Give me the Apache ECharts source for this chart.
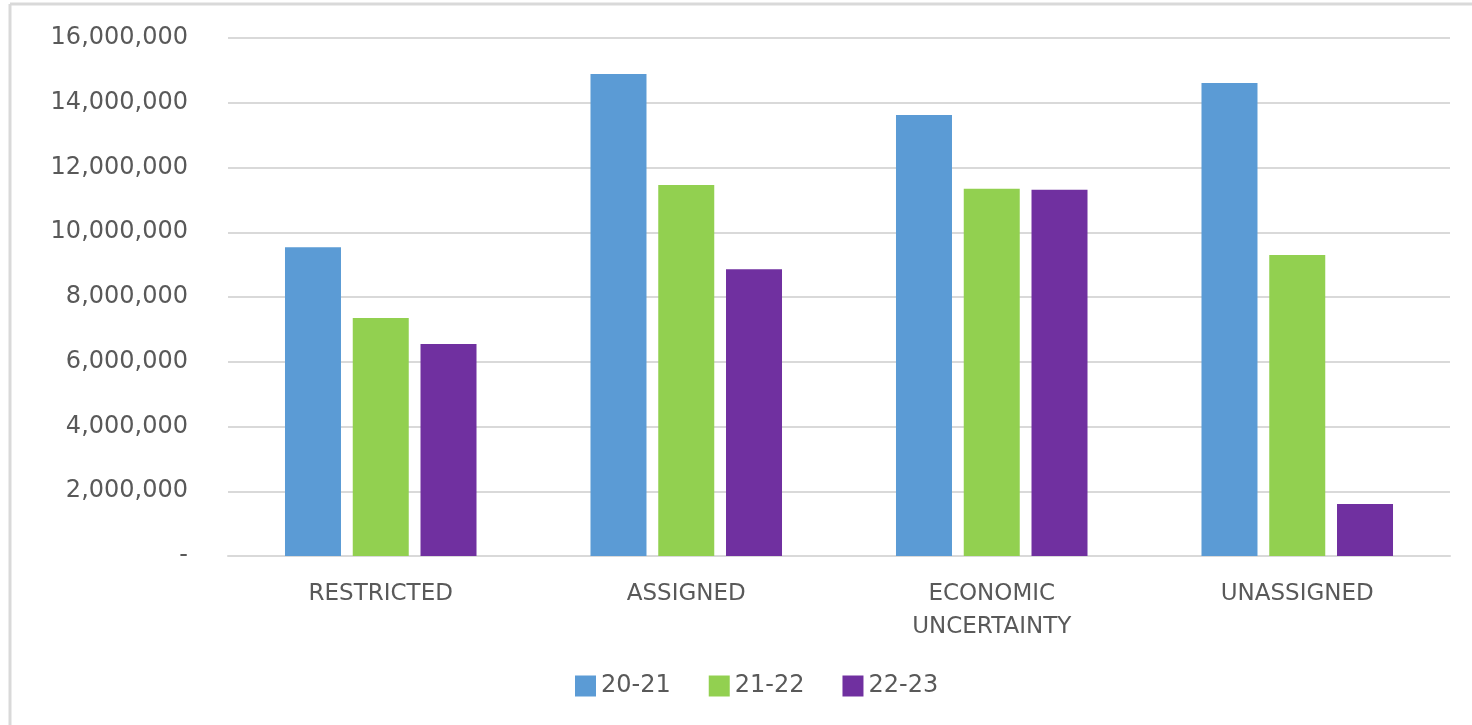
<!DOCTYPE html>
<html>
<head>
<meta charset="utf-8">
<style>
html,body{margin:0;padding:0;background:#fff;}
#chart{width:1472px;height:725px;}
</style>
<script src="https://cdn.jsdelivr.net/npm/echarts@6/dist/echarts.min.js"></script>
</head>
<body>
<div id="chart"></div>
<script>
const categories = ['RESTRICTED', 'ASSIGNED', 'ECONOMIC\nUNCERTAINTY', 'UNASSIGNED'];
const seriesNames = ['20-21', '21-22', '22-23'];
const values2021 = [9540000, 14890000, 13620000, 14610000];
const values2122 = [7350000, 11460000, 11340000, 9300000];
const values2223 = [6550000, 8860000, 11310000, 1610000];
const yTicks = [0, 2000000, 4000000, 6000000, 8000000, 10000000, 12000000, 14000000, 16000000];
const colors = ['#5b9bd5', '#92d050', '#7030a0'];

const chart = echarts.init(document.getElementById('chart'));
const font = '"DejaVu Sans", "Open Sans", sans-serif';
const data = [values2021, values2122, values2223];
chart.setOption({
  animation: false,
  backgroundColor: '#ffffff',
  textStyle: { fontFamily: font },
  graphic: [
    { type: 'line', shape: { x1: 10, y1: 4, x2: 1472, y2: 4 }, style: { stroke: '#d9d9d9', lineWidth: 3 } },
    { type: 'line', shape: { x1: 10, y1: 4, x2: 10, y2: 725 }, style: { stroke: '#d9d9d9', lineWidth: 3 } }
  ],
  grid: { left: 228, right: 22, top: 38, bottom: 169 },
  legend: {
    data: seriesNames,
    bottom: 22,
    left: 570,
    itemWidth: 21,
    itemHeight: 21,
    itemGap: 38,
    icon: 'rect',
    textStyle: { fontSize: 24, color: '#595959', fontFamily: font }
  },
  xAxis: {
    type: 'category',
    data: categories,
    axisLine: { lineStyle: { color: '#d9d9d9', width: 2 } },
    axisTick: { show: false },
    axisLabel: { fontSize: 23, color: '#595959', margin: 22, lineHeight: 33, fontFamily: font }
  },
  yAxis: {
    type: 'value',
    min: yTicks[0],
    max: yTicks[yTicks.length - 1],
    interval: 2000000,
    axisLine: { show: false },
    axisTick: { show: false },
    splitLine: { lineStyle: { color: '#d9d9d9', width: 2 } },
    axisLabel: {
      fontSize: 24, color: '#595959', margin: 40, fontFamily: font,
      formatter: v => v === 0 ? '-' : v.toLocaleString('en-US')
    }
  },
  series: seriesNames.map((n, i) => ({
    name: n,
    type: 'bar',
    data: data[i],
    barWidth: 56,
    barGap: '21%',
    itemStyle: { color: colors[i] }
  }))
});
</script>
</body>
</html>
